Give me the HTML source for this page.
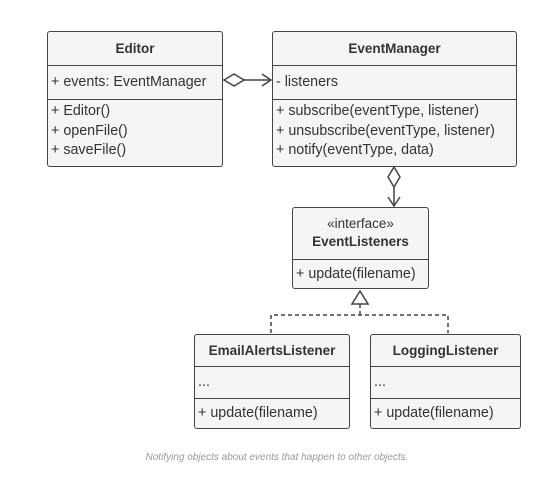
<!DOCTYPE html>
<html><head><style>
body{margin:0;width:554px;height:485px;background:#fff;position:relative;font-family:"Liberation Sans","DejaVu Sans",sans-serif;color:#333}
.b{position:absolute;border:1.5px solid #444;border-radius:3px;background:#f5f5f5;box-sizing:border-box;overflow:hidden}
.r{border-top:1.5px solid #444;box-sizing:border-box;padding-left:3px;font-size:14.3px;line-height:19.5px;white-space:nowrap}
.h{font-weight:bold;text-align:center;font-size:13.5px}
.cap{position:absolute;top:452px;left:0;width:554px;text-align:center;font-style:italic;font-size:10px;color:#999}
</style></head><body>
<div class="b" style="left:47px;top:31px;width:176px;height:136px">
<div class="h" style="height:33px;line-height:33px">Editor</div>
<div class="r" style="height:34px;line-height:32px">+ events: EventManager</div>
<div class="r" style="padding-top:2px">+ Editor()<br>+ openFile()<br>+ saveFile()</div>
</div>
<div class="b" style="left:272px;top:31px;width:245px;height:136px">
<div class="h" style="height:33px;line-height:33px">EventManager</div>
<div class="r" style="height:34px;line-height:32px">- listeners</div>
<div class="r" style="padding-top:2px">+ subscribe(eventType, listener)<br>+ unsubscribe(eventType, listener)<br>+ notify(eventType, data)</div>
</div>
<div class="b" style="left:292px;top:207px;width:137px;height:82px">
<div class="h" style="height:51px;padding-top:7px;line-height:18px;box-sizing:border-box"><span style="font-weight:normal">«interface»</span><br>EventListeners</div>
<div class="r" style="height:30px;line-height:28px">+ update(filename)</div>
</div>
<div class="b" style="left:194px;top:334px;width:156px;height:95px">
<div class="h" style="height:31px;line-height:31px">EmailAlertsListener</div>
<div class="r" style="height:32px;line-height:30px">...</div>
<div class="r" style="line-height:28px">+ update(filename)</div>
</div>
<div class="b" style="left:370px;top:334px;width:151px;height:95px">
<div class="h" style="height:31px;line-height:31px">LoggingListener</div>
<div class="r" style="height:32px;line-height:30px">...</div>
<div class="r" style="line-height:28px">+ update(filename)</div>
</div>
<svg width="554" height="485" style="position:absolute;left:0;top:0" fill="none" stroke="#444" stroke-width="1.5">
<path d="M224 80 L234 74 L244 80 L234 86 Z" fill="#fff"/>
<path d="M244 80 H271 M262 74 L271 80 L262 86"/>
<path d="M394 167 L400 177 L394 187 L388 177 Z" fill="#fff"/>
<path d="M394 187 V206 M388 197 L394 206 L400 197"/>
<path d="M360 291 L368 304 L352 304 Z" fill="#fff"/>
<path d="M360 304 V315 M271 333 V315 H448 V333" stroke-dasharray="4,3"/>
</svg>
<div class="cap">Notifying objects about events that happen to other objects.</div>
</body></html>
